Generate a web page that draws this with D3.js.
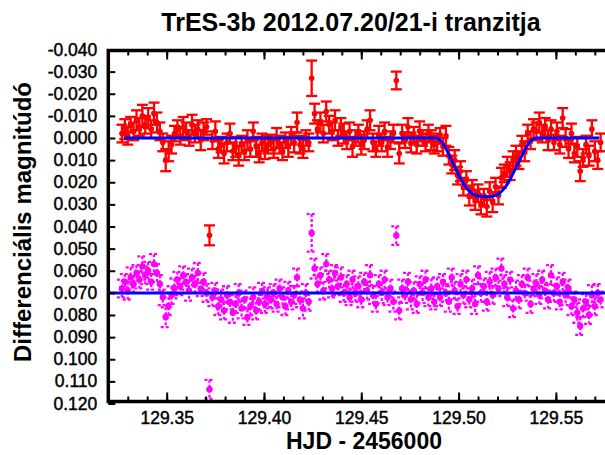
<!doctype html>
<html>
<head>
<meta charset="utf-8"/>
<title>TrES-3b tranzit</title>
<script src="https://d3js.org/d3.v7.min.js"></script>
<style>
	body { margin: 0; background: #fff; }
	svg text { font-family: "Liberation Sans", Arial, Helvetica, sans-serif; fill: #000; }
	.tick text { font-size: 17.5px; stroke: #000; stroke-width: 0.45px; }
</style>
</head>
<body>
<svg id="chart"></svg>
<script>
// HJD - 2456000 of each frame
var hjd = [
	129.3270, 129.3285, 129.3300, 129.3315, 129.3330, 129.3345, 129.3360, 129.3375, 129.3390, 129.3405,
	129.3420, 129.3435, 129.3450, 129.3465, 129.3480, 129.3495, 129.3510, 129.3525, 129.3540, 129.3555,
	129.3570, 129.3585, 129.3600, 129.3615, 129.3630, 129.3645, 129.3660, 129.3675, 129.3690, 129.3705,
	129.3720, 129.3735, 129.3750, 129.3765, 129.3780, 129.3795, 129.3810, 129.3825, 129.3840, 129.3855,
	129.3870, 129.3885, 129.3900, 129.3915, 129.3930, 129.3945, 129.3960, 129.3975, 129.3990, 129.4005,
	129.4020, 129.4035, 129.4050, 129.4065, 129.4080, 129.4095, 129.4110, 129.4125, 129.4140, 129.4155,
	129.4170, 129.4185, 129.4200, 129.4215, 129.4230, 129.4245, 129.4260, 129.4275, 129.4290, 129.4305,
	129.4320, 129.4335, 129.4350, 129.4365, 129.4380, 129.4395, 129.4410, 129.4425, 129.4440, 129.4455,
	129.4470, 129.4485, 129.4500, 129.4515, 129.4530, 129.4545, 129.4560, 129.4575, 129.4590, 129.4605,
	129.4620, 129.4635, 129.4650, 129.4665, 129.4680, 129.4695, 129.4710, 129.4725, 129.4740, 129.4755,
	129.4770, 129.4785, 129.4800, 129.4815, 129.4830, 129.4845, 129.4860, 129.4875, 129.4890, 129.4905,
	129.4920, 129.4935, 129.4950, 129.4965, 129.4980, 129.4995, 129.5010, 129.5025, 129.5040, 129.5055,
	129.5070, 129.5085, 129.5100, 129.5115, 129.5130, 129.5145, 129.5160, 129.5175, 129.5190, 129.5205,
	129.5220, 129.5235, 129.5250, 129.5265, 129.5280, 129.5295, 129.5310, 129.5325, 129.5340, 129.5355,
	129.5370, 129.5385, 129.5400, 129.5415, 129.5430, 129.5445, 129.5460, 129.5475, 129.5490, 129.5505,
	129.5520, 129.5535, 129.5550, 129.5565, 129.5580, 129.5595, 129.5610, 129.5625, 129.5640, 129.5655,
	129.5670, 129.5685, 129.5700, 129.5715, 129.5730
];

// TrES-3 differential magnitude and its errors
var targetMag = [
	-0.002, -0.004, -0.001, -0.006, -0.003, -0.008, -0.005, -0.010, -0.006, -0.009,
	-0.004, -0.011, -0.007, -0.003, 0.002, 0.010, 0.006, 0.003, -0.002, -0.004,
	-0.001, -0.005, -0.003, 0.000, -0.006, -0.002, -0.004, 0.001, -0.003, -0.005,
	0.044, 0.001, -0.003, 0.005, 0.003, 0.007, 0.002, -0.002, 0.006, 0.004,
	0.008, 0.003, 0.006, 0.001, 0.005, -0.003, 0.004, 0.007, 0.002, 0.005,
	0.003, 0.002, 0.005, 0.000, 0.003, 0.006, 0.001, 0.004, -0.001, 0.002,
	-0.007, 0.003, 0.005, 0.000, 0.002, -0.027, -0.011, -0.004, -0.007, -0.002,
	-0.012, -0.006, -0.003, -0.008, 0.000, -0.005, -0.002, 0.001, -0.003, 0.004,
	0.000, -0.002, 0.003, 0.001, -0.004, -0.008, 0.002, 0.005, -0.001, 0.002,
	-0.003, 0.004, 0.001, -0.002, -0.026, 0.007, -0.002, 0.001, -0.005, 0.002,
	-0.001, 0.003, -0.003, 0.000, 0.002, -0.002, 0.001, 0.003, 0.002, -0.001,
	0.004, -0.001, 0.008, 0.012, 0.010, 0.017, 0.015, 0.022, 0.019, 0.026,
	0.023, 0.028, 0.025, 0.030, 0.027, 0.031, 0.024, 0.029, 0.022, 0.026,
	0.018, 0.016, 0.013, 0.015, 0.010, 0.008, 0.010, 0.003, 0.006, -0.002,
	0.001, -0.004, -0.003, -0.007, -0.002, -0.005, 0.001, -0.004, 0.002, -0.003,
	0.003, -0.009, 0.000, 0.005, -0.002, 0.007, 0.004, 0.015, 0.009, 0.003,
	0.008, -0.004, 0.006, 0.010, 0.002
];
var targetErr = [
	0.004, 0.0045, 0.004, 0.0035, 0.004, 0.0045, 0.004, 0.005, 0.004, 0.0045,
	0.004, 0.005, 0.0045, 0.004, 0.004, 0.005, 0.0045, 0.004, 0.0035, 0.004,
	0.004, 0.0045, 0.004, 0.0035, 0.0045, 0.004, 0.004, 0.0045, 0.004, 0.0035,
	0.0045, 0.004, 0.0045, 0.004, 0.0035, 0.0045, 0.004, 0.0045, 0.004, 0.0045,
	0.0045, 0.004, 0.004, 0.0045, 0.0035, 0.004, 0.0045, 0.004, 0.004, 0.0045,
	0.004, 0.0035, 0.004, 0.0045, 0.004, 0.004, 0.0035, 0.0045, 0.004, 0.0045,
	0.0045, 0.004, 0.004, 0.0035, 0.004, 0.008, 0.0045, 0.004, 0.0045, 0.004,
	0.0045, 0.004, 0.004, 0.0045, 0.0035, 0.004, 0.0045, 0.004, 0.004, 0.0045,
	0.0035, 0.004, 0.0045, 0.004, 0.004, 0.0045, 0.004, 0.0035, 0.0045, 0.004,
	0.004, 0.0045, 0.004, 0.004, 0.004, 0.0045, 0.004, 0.0035, 0.004, 0.0045,
	0.004, 0.004, 0.0045, 0.0035, 0.004, 0.004, 0.0045, 0.004, 0.004, 0.0035,
	0.004, 0.0045, 0.004, 0.004, 0.0045, 0.004, 0.0045, 0.004, 0.004, 0.0045,
	0.004, 0.0045, 0.004, 0.0045, 0.004, 0.0045, 0.004, 0.0045, 0.004, 0.004,
	0.0045, 0.004, 0.0045, 0.004, 0.004, 0.0045, 0.004, 0.004, 0.0045, 0.004,
	0.004, 0.0045, 0.004, 0.0045, 0.004, 0.004, 0.0045, 0.004, 0.0035, 0.004,
	0.004, 0.0045, 0.004, 0.004, 0.0045, 0.004, 0.0045, 0.0045, 0.004, 0.004,
	0.0045, 0.004, 0.0045, 0.004, 0.004
];

// check star, shifted down by 0.070 mag
var checkMag = [
	0.068, 0.065, 0.069, 0.063, 0.066, 0.061, 0.064, 0.058, 0.062, 0.060,
	0.065, 0.057, 0.061, 0.066, 0.072, 0.081, 0.076, 0.071, 0.068, 0.064,
	0.067, 0.062, 0.065, 0.069, 0.063, 0.066, 0.061, 0.068, 0.065, 0.070,
	0.1136, 0.072, 0.069, 0.076, 0.073, 0.078, 0.071, 0.074, 0.079, 0.075,
	0.070, 0.077, 0.073, 0.081, 0.076, 0.072, 0.078, 0.074, 0.069, 0.075,
	0.072, 0.073, 0.070, 0.075, 0.068, 0.072, 0.076, 0.069, 0.074, 0.071,
	0.063, 0.073, 0.077, 0.070, 0.074, 0.0429, 0.059, 0.066, 0.062, 0.069,
	0.057, 0.064, 0.068, 0.061, 0.067, 0.063, 0.070, 0.066, 0.072, 0.064,
	0.070, 0.067, 0.073, 0.065, 0.069, 0.062, 0.071, 0.075, 0.066, 0.070,
	0.064, 0.072, 0.068, 0.074, 0.0441, 0.078, 0.068, 0.071, 0.065, 0.073,
	0.069, 0.075, 0.066, 0.070, 0.064, 0.072, 0.068, 0.074, 0.067, 0.072,
	0.065, 0.070, 0.074, 0.063, 0.069, 0.076, 0.066, 0.071, 0.064, 0.073,
	0.068, 0.075, 0.062, 0.070, 0.067, 0.074, 0.065, 0.071, 0.063, 0.068,
	0.059, 0.066, 0.072, 0.064, 0.077, 0.069, 0.073, 0.066, 0.070, 0.063,
	0.075, 0.068, 0.066, 0.071, 0.064, 0.069, 0.073, 0.062, 0.070, 0.067,
	0.074, 0.065, 0.071, 0.068, 0.076, 0.073, 0.079, 0.085, 0.077, 0.074,
	0.080, 0.071, 0.076, 0.070, 0.073
];
var checkErr = [
	0.004, 0.0035, 0.004, 0.0045, 0.004, 0.0035, 0.004, 0.0045, 0.004, 0.004,
	0.0035, 0.0045, 0.004, 0.004, 0.0035, 0.0045, 0.004, 0.004, 0.0045, 0.0035,
	0.004, 0.004, 0.0035, 0.0045, 0.004, 0.004, 0.0045, 0.0035, 0.004, 0.004,
	0.0043, 0.004, 0.0035, 0.004, 0.0045, 0.004, 0.004, 0.0035, 0.0045, 0.004,
	0.004, 0.0045, 0.004, 0.0035, 0.004, 0.0045, 0.004, 0.004, 0.0035, 0.004,
	0.0045, 0.004, 0.004, 0.0035, 0.004, 0.0045, 0.004, 0.004, 0.0035, 0.004,
	0.004, 0.0035, 0.0045, 0.004, 0.004, 0.0085, 0.0045, 0.004, 0.0035, 0.004,
	0.0045, 0.004, 0.004, 0.0035, 0.004, 0.0045, 0.004, 0.004, 0.0035, 0.004,
	0.004, 0.0045, 0.0035, 0.004, 0.004, 0.0045, 0.004, 0.0035, 0.004, 0.0045,
	0.004, 0.0035, 0.004, 0.0045, 0.0042, 0.004, 0.004, 0.0035, 0.004, 0.0045,
	0.004, 0.004, 0.0035, 0.0045, 0.004, 0.004, 0.0045, 0.0035, 0.004, 0.004,
	0.0035, 0.004, 0.0045, 0.004, 0.004, 0.0035, 0.0045, 0.004, 0.004, 0.0035,
	0.004, 0.0045, 0.004, 0.004, 0.0035, 0.004, 0.0045, 0.004, 0.004, 0.0035,
	0.0045, 0.004, 0.004, 0.0035, 0.004, 0.0045, 0.004, 0.004, 0.0035, 0.004,
	0.004, 0.0035, 0.0045, 0.004, 0.004, 0.0035, 0.004, 0.0045, 0.004, 0.004,
	0.0035, 0.004, 0.0045, 0.004, 0.004, 0.0035, 0.0045, 0.004, 0.004, 0.0035,
	0.004, 0.0045, 0.004, 0.004, 0.0035
];

// fitted transit model (vertices of the curve)
var modelHjd = [129.3282, 129.4886, 129.4927, 129.4969, 129.5012, 129.5055, 129.5098, 129.5158,
	129.5200, 129.5244, 129.5286, 129.5329, 129.5372, 129.5398, 129.5723];
var modelMag = [0.000, 0.000, 0.0035, 0.0110, 0.0186, 0.0240, 0.0262, 0.0265,
	0.0255, 0.0217, 0.0149, 0.0073, 0.0012, 0.000, 0.000];

// level of the check star
var checkLineHjd = [129.32, 129.58];
var checkLineMag = [0.070, 0.070];

var yTicks = [-0.04, -0.03, -0.02, -0.01, 0.00, 0.01, 0.02, 0.03, 0.04, 0.05, 0.06, 0.07, 0.08, 0.09, 0.10, 0.11, 0.12];
var xTicks = [129.35, 129.40, 129.45, 129.50, 129.55];

var width = 605, height = 455;
var plotLeft = 108.3, plotTop = 49.5, plotBottom = 403.5;
var plotRight = plotLeft + 0.26 * 1946; // runs off the canvas

var svg = d3.select("#chart")
	.attr("width", width)
	.attr("height", height);

svg.append("rect").attr("width", width).attr("height", height).attr("fill", "#fff");

var x = d3.scaleLinear()
	.domain([129.32, 129.58])
	.range([plotLeft, plotRight]);

var y = d3.scaleLinear()
	.domain([-0.04, 0.12])
	.range([plotTop, plotBottom]);

var minorTicks = d3.range(129.33, 129.58, 0.01).map(function(d) { return +d.toFixed(2); });

var plot = svg.append("g");

// error bars + points for one series
function drawSeries(mags, errs, color, dashed, radius, cap) {
	var g = plot.append("g");
	var pts = hjd.map(function(t, i) { return { t: t, m: mags[i], e: errs[i] }; });
	var bars = g.selectAll("g.eb").data(pts).enter().append("g").attr("class", "eb")
		.attr("stroke", color)
		.attr("stroke-width", 2.3)
		.attr("stroke-dasharray", dashed ? "3,2" : null)
		.attr("fill", "none");
	bars.append("line")
		.attr("x1", function(d) { return x(d.t); })
		.attr("x2", function(d) { return x(d.t); })
		.attr("y1", function(d) { return y(d.m - d.e); })
		.attr("y2", function(d) { return y(d.m + d.e); });
	bars.append("line")
		.attr("x1", function(d) { return x(d.t) - cap; })
		.attr("x2", function(d) { return x(d.t) + cap; })
		.attr("y1", function(d) { return y(d.m - d.e); })
		.attr("y2", function(d) { return y(d.m - d.e); });
	bars.append("line")
		.attr("x1", function(d) { return x(d.t) - cap; })
		.attr("x2", function(d) { return x(d.t) + cap; })
		.attr("y1", function(d) { return y(d.m + d.e); })
		.attr("y2", function(d) { return y(d.m + d.e); });
	g.selectAll("circle").data(pts).enter().append("circle")
		.attr("cx", function(d) { return x(d.t); })
		.attr("cy", function(d) { return y(d.m); })
		.attr("r", radius)
		.attr("fill", color);
}

drawSeries(checkMag, checkErr, "#ff00ff", true, 3.2, 5);
drawSeries(targetMag, targetErr, "#ff0000", false, 2.8, 5.5);

var line = d3.line()
	.x(function(d) { return x(d[0]); })
	.y(function(d) { return y(d[1]); })
	.curve(d3.curveMonotoneX);

plot.append("path")
	.datum(modelHjd.map(function(t, i) { return [t, modelMag[i]]; }))
	.attr("d", line)
	.attr("fill", "none")
	.attr("stroke", "#0000ff")
	.attr("stroke-width", 3);

plot.append("path")
	.datum(checkLineHjd.map(function(t, i) { return [t, checkLineMag[i]]; }))
	.attr("d", line)
	.attr("fill", "none")
	.attr("stroke", "#0000ff")
	.attr("stroke-width", 3);

//axes, ticks point inwards
svg.append("g")
	.attr("transform", "translate(" + plotLeft + ",0)")
	.call(d3.axisLeft(y).tickValues(yTicks).tickSize(-7).tickPadding(11)
		.tickFormat(function(d) { return d.toFixed(3); }))
	.call(function(g) { g.select(".domain").remove(); })
	.selectAll("line").attr("stroke-width", 2);

svg.append("g")
	.attr("transform", "translate(0," + (plotBottom - 2) + ")")
	.call(d3.axisBottom(x).tickValues(xTicks).tickSize(-9).tickPadding(10)
		.tickFormat(function(d) { return d.toFixed(2); }))
	.call(function(g) { g.select(".domain").remove(); })
	.selectAll("line").attr("stroke-width", 2);

svg.append("g")
	.attr("transform", "translate(0," + (plotBottom - 2) + ")")
	.call(d3.axisBottom(x).tickValues(minorTicks).tickSize(-5).tickFormat(""))
	.call(function(g) { g.select(".domain").remove(); })
	.selectAll("line").attr("stroke-width", 2);

svg.append("g")
	.attr("transform", "translate(0," + (plotTop + 1) + ")")
	.call(d3.axisTop(x).tickValues(xTicks).tickSize(-9).tickFormat(""))
	.call(function(g) { g.select(".domain").remove(); })
	.selectAll("line").attr("stroke-width", 2);

svg.append("g")
	.attr("transform", "translate(0," + (plotTop + 1) + ")")
	.call(d3.axisTop(x).tickValues(minorTicks).tickSize(-5).tickFormat(""))
	.call(function(g) { g.select(".domain").remove(); })
	.selectAll("line").attr("stroke-width", 2);

// frame
svg.append("rect")
	.attr("x", plotLeft)
	.attr("y", plotTop + 1)
	.attr("width", plotRight - plotLeft)
	.attr("height", plotBottom - plotTop - 3)
	.attr("fill", "none")
	.attr("stroke", "#000")
	.attr("stroke-width", 3.5);

//titles
svg.append("text")
	.attr("x", 351)
	.attr("y", 31)
	.attr("text-anchor", "middle")
	.style("font-size", "25px")
	.style("font-weight", "bold")
	.text("TrES-3b 2012.07.20/21-i tranzitja");

svg.append("text")
	.attr("x", 364)
	.attr("y", 449)
	.attr("text-anchor", "middle")
	.style("font-size", "23px")
	.style("font-weight", "bold")
	.text("HJD - 2456000");

svg.append("text")
	.attr("transform", "translate(31,222) rotate(-90)")
	.attr("text-anchor", "middle")
	.style("font-size", "24px")
	.style("font-weight", "bold")
	.text("Differenciális magnitúdó");
</script>
</body>
</html>
